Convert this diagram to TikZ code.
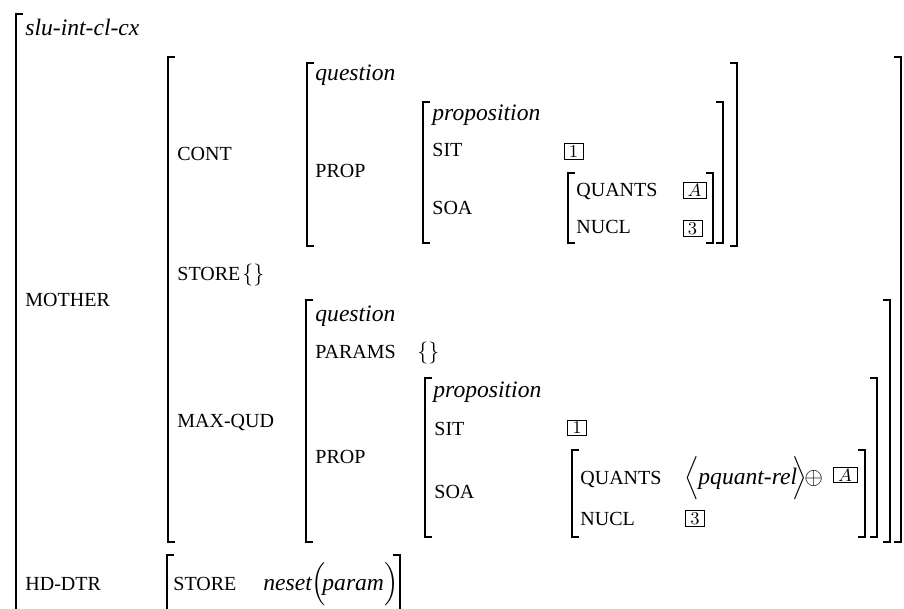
\documentclass[tikz,border=0pt]{standalone}
\usepackage{amsmath}
\usepackage[no-math]{fontspec}
\setmainfont{Liberation Serif}
\newcommand\avmL[3]{\draw[brk] (#1+7,#2) -- (#1,#2) -- (#1,#3) -- (#1+7,#3);}
\newcommand\avmR[3]{\draw[brk] (#1-7,#2) -- (#1,#2) -- (#1,#3) -- (#1-7,#3);}
\tikzset{
  brk/.style={line width=0.65pt},
  it/.style={anchor=base west, inner sep=0pt, font=\fontsize{11.8}{14}\selectfont\itshape},
  sc/.style={anchor=base west, inner sep=0pt, font=\fontsize{10}{12}\selectfont},
  sym/.style={anchor=base west, inner sep=0pt, font=\fontsize{11.8}{14}\selectfont},
  tagbox/.style={draw, line width=0.45pt, inner sep=0pt, minimum width=9.5pt, minimum height=7.8pt, font=\fontsize{9.5}{9.5}\selectfont},
}
\begin{document}
\begin{tikzpicture}[x=0.5pt,y=-0.5pt]
\useasboundingbox (0,0) rectangle (904,609);
% brackets
\draw[brk] (16+7,14) -- (16,14) -- (16,609);
\avmL{168}{57}{542}\avmR{901}{57}{542}
\avmL{307}{63}{246}\avmR{737}{63}{246}
\avmL{423}{102}{243}\avmR{723}{102}{243}
\avmL{568}{173}{243}\avmR{713}{173}{243}
\avmL{306}{300}{542}\avmR{890}{300}{542}
\avmL{425}{378}{537}\avmR{877}{378}{537}
\avmL{572}{450}{537}\avmR{865}{450}{537}
\draw[brk] (167+7,555) -- (167,555) -- (167,609);
\draw[brk] (400-7,555) -- (400,555) -- (400,609);
% outer
\node[it] (type) at (25,36) {slu-int-cl-cx};
\node[sc] (mother) at (25,306) {MOTHER};
\node[sc] (hddtr) at (25,590) {HD-DTR};
% mother value
\node[sc] (cont) at (177,161) {CONT};
\node[sc] (store) at (177,280) {STORE};
\node[sym, font=\fontsize{11}{13}\selectfont] (storev) at (242,280) {$\{\}$};
\node[sc] (maxqud) at (177,427) {MAX-QUD};
% cont value
\node[it] (q1) at (315,81) {question};
\node[sc] (prop1) at (315,178) {PROP};
\node[it] (pn1) at (432,121) {proposition};
\node[sc] (sit1) at (432,157) {SIT};
\node[tagbox] (t1a) at (573.5,151.5) {$1$};
\node[sc] (soa1) at (432,215) {SOA};
\node[sc] (quants1) at (576,197) {QUANTS};
\node[tagbox, minimum width=11.5pt] (tA1) at (694.5,190.5) {$A$};
\node[sc] (nucl1) at (576,234) {NUCL};
\node[tagbox] (t3a) at (692.5,228.5) {$3$};
% max-qud value
\node[it] (q2) at (315,321) {question};
\node[sc] (params) at (315,358) {PARAMS};
\node[sym, font=\fontsize{11}{13}\selectfont] (paramsv) at (417,358) {$\{\}$};
\node[sc] (prop2) at (315,463) {PROP};
\node[it] (pn2) at (433,397) {proposition};
\node[sc] (sit2) at (434,435) {SIT};
\node[tagbox] (t1b) at (577,428) {$1$};
\node[sc] (soa2) at (434,498) {SOA};
\node[sc] (quants2) at (580,484) {QUANTS};
\node[sym] (lang) at (684,484) {$\Big\langle$};
\node[it] (pq) at (698,484) {pquant-rel};
\node[sym] (rang) at (792,484) {$\Big\rangle$};
\node[sym, font=\fontsize{12}{14}\selectfont] (oplus) at (804,484) {$\oplus$};
\node[tagbox, minimum width=12pt] (tA2) at (845,475) {$A$};
\node[sc] (nucl2) at (580,525) {NUCL};
\node[tagbox] (t3b) at (695,518.5) {$3$};
% hd-dtr value
\node[sc] (store2) at (173,590) {STORE};
\node[it] (neset) at (263,590) {neset};
\node[sym] (lp) at (311,590) {$\Big($};
\node[it] (param) at (322,590) {param};
\node[sym] (rp) at (384,590) {$\Big)$};
\end{tikzpicture}
\end{document}
